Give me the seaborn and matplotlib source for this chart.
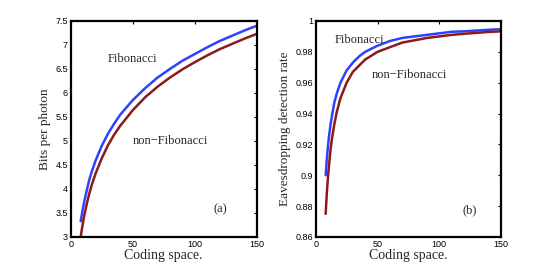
import numpy as np
import pandas as pd
import matplotlib
matplotlib.use("Agg")
import matplotlib.pyplot as plt
import seaborn as sns

# Coding space values (x axis) shared by both panels
coding_space = [8, 9, 10, 11, 12, 13, 15, 17, 20, 25, 30, 35, 40, 50, 60, 70,
                80, 90, 100, 110, 120, 130, 140, 150]

# (a) bits per photon
bits_fib = [3.33, 3.48, 3.62, 3.75, 3.87, 3.98, 4.20, 4.37, 4.59, 4.90, 5.15,
            5.36, 5.55, 5.85, 6.10, 6.32, 6.50, 6.67, 6.81, 6.95, 7.08, 7.19,
            7.30, 7.40]
bits_non = [3.00, 3.17, 3.32, 3.46, 3.58, 3.70, 3.91, 4.09, 4.32, 4.64, 4.91,
            5.13, 5.32, 5.64, 5.91, 6.13, 6.32, 6.49, 6.64, 6.78, 6.91, 7.02,
            7.13, 7.23]

# (b) eavesdropping detection rate
det_fib = [0.900, 0.911, 0.920, 0.927, 0.933, 0.938, 0.947, 0.953, 0.960,
           0.968, 0.973, 0.977, 0.980, 0.984, 0.987, 0.989, 0.990, 0.991,
           0.992, 0.993, 0.9933, 0.9938, 0.9943, 0.9947]
det_non = [0.875, 0.889, 0.900, 0.909, 0.917, 0.923, 0.933, 0.941, 0.950,
           0.960, 0.967, 0.971, 0.975, 0.980, 0.983, 0.986, 0.9875, 0.989,
           0.990, 0.991, 0.9917, 0.9923, 0.9929, 0.9933]

series_names = ["Fibonacci", "non\u2212Fibonacci"]
line_colors = {"Fibonacci": "#3040ff", "non\u2212Fibonacci": "#8b1a1a"}


def long_frame(y_fib, y_non):
    return pd.DataFrame({
        "x": coding_space * 2,
        "y": y_fib + y_non,
        "series": [series_names[0]] * len(coding_space) + [series_names[1]] * len(coding_space),
    })


def main():
    sns.set_theme(style="white")
    plt.rcParams["font.family"] = ["Liberation Serif", "DejaVu Serif"]
    plt.rcParams["xtick.direction"] = "in"
    plt.rcParams["ytick.direction"] = "in"

    fig = plt.figure(figsize=(5.53, 2.78), dpi=100)
    ax_a = fig.add_axes([0.128, 0.1475, 0.336, 0.777])
    ax_b = fig.add_axes([0.571, 0.1475, 0.335, 0.777])

    panels = [
        (ax_a, long_frame(bits_fib, bits_non), (3, 7.5), np.arange(3, 7.51, 0.5),
         "Bits per photon", "(a)",
         [(30, 6.71), (50, 5.0), (115, 3.58)]),
        (ax_b, long_frame(det_fib, det_non), (0.86, 1.0), np.arange(0.86, 1.001, 0.02),
         "Eavesdropping detection rate", "(b)",
         [(15, 0.9877), (45.5, 0.965), (119, 0.877)]),
    ]

    for ax, df, ylim, yticks, ylabel, tag, text_pos in panels:
        sns.lineplot(data=df, x="x", y="y", hue="series", palette=line_colors,
                     linewidth=1.8, legend=False, ax=ax)
        ax.set_xlim(0, 150)
        ax.set_ylim(*ylim)
        ax.set_xticks([0, 50, 100, 150])
        ax.set_yticks(yticks)
        if ylim[1] > 2:
            ax.set_yticklabels([f"{v:g}" for v in yticks])
        else:
            ax.set_yticklabels([f"{v:.2f}".rstrip("0").rstrip(".") if v < 0.999 else "1" for v in yticks])
        ax.tick_params(axis="both", which="both", top=True, right=True, length=2.5,
                       width=0.8, labelsize=6.5, pad=2, colors="black")
        for lbl in ax.get_xticklabels() + ax.get_yticklabels():
            lbl.set_fontfamily(["Liberation Sans", "DejaVu Sans"])
        for sp in ax.spines.values():
            sp.set_visible(True)
            sp.set_color("black")
            sp.set_linewidth(1.6)
        ax.set_xlabel("Coding space.", fontsize=10, labelpad=0)
        ax.set_ylabel(ylabel, fontsize=9.5, labelpad=3)
        ax.text(text_pos[0][0], text_pos[0][1], series_names[0], fontsize=9, va="center")
        ax.text(text_pos[1][0], text_pos[1][1], series_names[1], fontsize=9, va="center")
        ax.text(text_pos[2][0], text_pos[2][1], tag, fontsize=9, va="center")

    fig.savefig("out.png", dpi=100)
    plt.close(fig)


if __name__ == "__main__":
    main()
